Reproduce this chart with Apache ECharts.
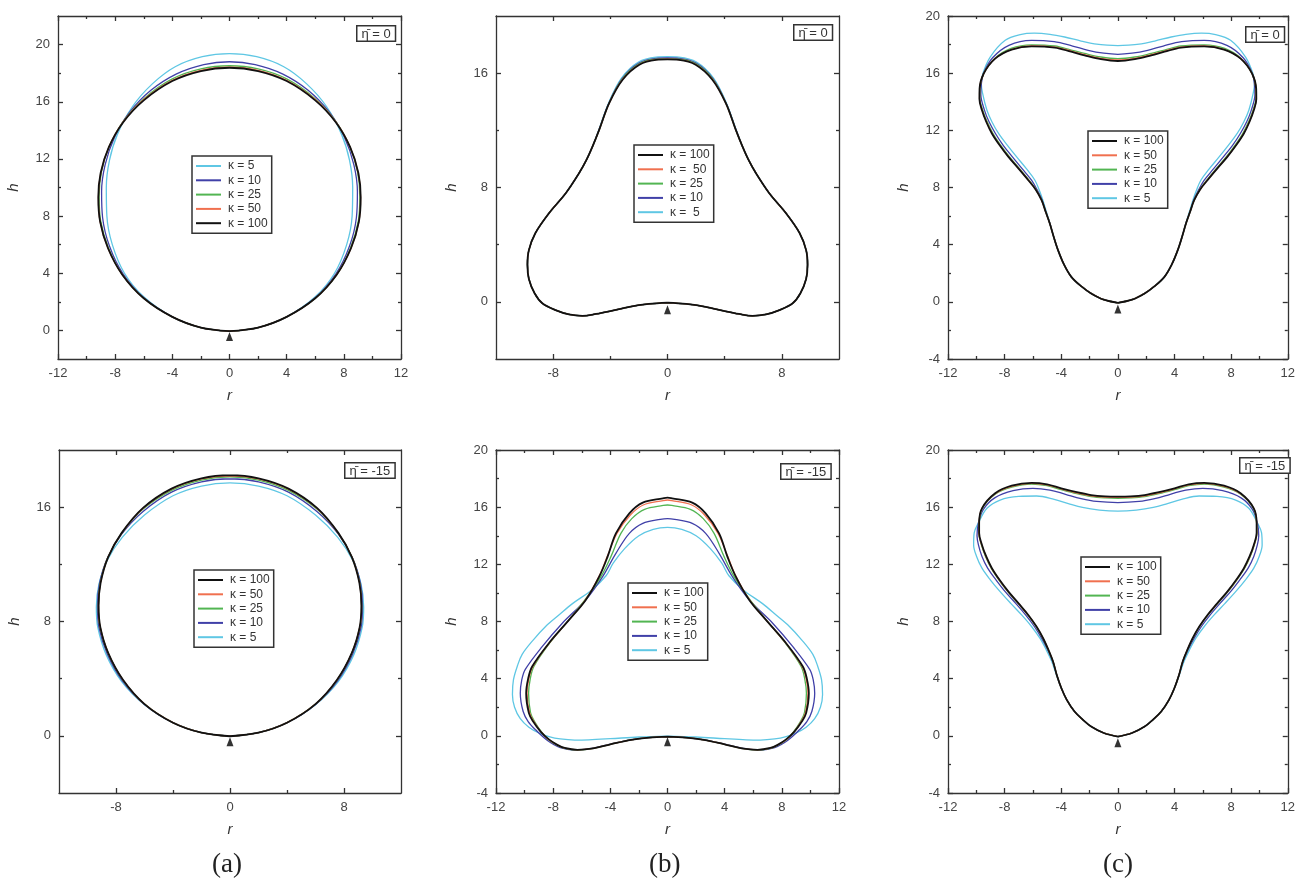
<!DOCTYPE html>
<html><head><meta charset="utf-8">
<script src="https://cdn.jsdelivr.net/npm/echarts@6/dist/echarts.min.js"></script>
<style>html,body{margin:0;background:#fff}#c{width:1298px;height:889px}</style>
</head><body><div id="c"></div>
<script>
// ---- data: right halves (r >= 0) of each axisymmetric profile, bottom -> top; left half is the mirror image ----
// (a) eta = 0
const A0_K5   = [[0,-0.05],[2,0.2],[4,0.95],[6,2.35],[7.35,4.0],[8.2,6.0],[8.58,8.0],[8.62,10.0],[8.4,11.9],[7.85,13.7],[6.8,15.65],[5.4,17.25],[3.8,18.45],[1.9,19.15],[0,19.37]];
const A0_K10  = [[0,-0.05],[2,0.2],[4,0.95],[6,2.28],[7.45,3.95],[8.4,5.9],[8.88,7.9],[8.95,9.7],[8.7,11.6],[8.05,13.5],[7.0,15.25],[5.5,16.8],[3.7,17.95],[1.8,18.6],[0,18.8]];
const A0_K25  = [[0,-0.05],[2,0.2],[4,0.95],[6,2.25],[7.5,3.9],[8.48,5.8],[9.02,7.7],[9.12,9.4],[8.95,11.15],[8.38,12.95],[7.38,14.7],[5.95,16.25],[4,17.6],[2,18.3],[0,18.52]];
const A0_K50  = [[0,-0.05],[2,0.2],[4,0.95],[6,2.25],[7.5,3.9],[8.5,5.75],[9.05,7.6],[9.17,9.35],[9.0,11.05],[8.43,12.85],[7.43,14.6],[6,16.15],[4,17.5],[2,18.2],[0,18.42]];
const A0_K100 = [[0,-0.05],[2,0.2],[4,0.95],[6,2.25],[7.5,3.9],[8.5,5.75],[9.05,7.6],[9.18,9.3],[9.02,11.0],[8.45,12.8],[7.45,14.55],[6,16.1],[4,17.45],[2,18.15],[0,18.38]];
// (b) eta = 0
const B0_K5   = [[0,-0.05],[1.3,-0.15],[2.67,-0.35],[4.0,-0.65],[5.0,-0.85],[5.95,-0.98],[6.9,-0.88],[7.83,-0.58],[8.76,-0.1],[9.3,0.6],[9.7,1.6],[9.8,2.6],[9.7,3.62],[9.25,4.8],[8.3,6.19],[7.12,7.6],[6.19,9.0],[5.67,9.93],[5.25,10.86],[4.8,12.05],[4.12,13.92],[3.22,15.66],[2.03,16.78],[0.8,17.12],[0,17.15]];
const B0_K10  = [[0,-0.05],[1.3,-0.15],[2.67,-0.35],[4.0,-0.65],[5.0,-0.85],[5.95,-0.98],[6.9,-0.88],[7.83,-0.58],[8.76,-0.1],[9.3,0.6],[9.7,1.6],[9.8,2.6],[9.7,3.62],[9.25,4.8],[8.3,6.19],[7.12,7.6],[6.19,9.0],[5.67,9.93],[5.25,10.86],[4.79,12.04],[4.1,13.91],[3.18,15.62],[2.0,16.7],[0.8,17.03],[0,17.06]];
const B0_K25  = [[0,-0.05],[1.3,-0.15],[2.67,-0.35],[4.0,-0.65],[5.0,-0.85],[5.95,-0.98],[6.9,-0.88],[7.83,-0.58],[8.76,-0.1],[9.3,0.6],[9.7,1.6],[9.8,2.6],[9.7,3.62],[9.25,4.8],[8.3,6.19],[7.12,7.6],[6.19,9.0],[5.67,9.93],[5.25,10.86],[4.78,12.03],[4.09,13.9],[3.16,15.6],[1.99,16.65],[0.8,16.98],[0,17.0]];
const B0_K50  = [[0,-0.05],[1.3,-0.15],[2.67,-0.35],[4.0,-0.65],[5.0,-0.85],[5.95,-0.98],[6.9,-0.88],[7.83,-0.58],[8.76,-0.1],[9.3,0.6],[9.7,1.6],[9.8,2.6],[9.7,3.62],[9.25,4.8],[8.3,6.19],[7.12,7.6],[6.19,9.0],[5.67,9.93],[5.25,10.86],[4.78,12.03],[4.08,13.9],[3.15,15.56],[1.98,16.61],[0.8,16.95],[0,16.98]];
const B0_K100 = [[0,-0.05],[1.3,-0.15],[2.67,-0.35],[4.0,-0.65],[5.0,-0.85],[5.95,-0.98],[6.9,-0.88],[7.83,-0.58],[8.76,-0.1],[9.3,0.6],[9.7,1.6],[9.8,2.6],[9.7,3.62],[9.25,4.8],[8.3,6.19],[7.12,7.6],[6.19,9.0],[5.67,9.93],[5.25,10.86],[4.78,12.03],[4.08,13.9],[3.14,15.54],[1.97,16.59],[0.8,16.93],[0,16.96]];
// (c) eta = 0
const C0_K5   = [[0,-0.07],[1.0,0.15],[1.89,0.59],[2.6,1.1],[3.29,1.75],[3.8,2.6],[4.23,3.62],[4.55,4.6],[4.8,5.48],[5.05,6.3],[5.3,7.11],[5.55,7.8],[5.86,8.51],[6.45,9.3],[7.15,10.14],[7.8,10.95],[8.43,11.78],[8.9,12.6],[9.25,13.4],[9.56,14.6],[9.65,15.3],[9.54,15.97],[9.02,17.13],[7.96,18.3],[6.9,18.7],[5.9,18.8],[4.8,18.72],[3.76,18.53],[2.6,18.25],[1.66,18.05],[0,17.93]];
const C0_K10  = [[0,-0.07],[1.0,0.15],[1.89,0.59],[2.6,1.1],[3.29,1.75],[3.8,2.6],[4.23,3.62],[4.55,4.6],[4.8,5.48],[5.1,6.3],[5.35,7.11],[5.7,7.83],[6.1,8.51],[6.75,9.3],[7.45,10.14],[8.1,10.95],[8.65,11.78],[9.1,12.6],[9.42,13.4],[9.68,14.5],[9.65,15.2],[9.5,15.97],[8.85,17.08],[7.7,17.95],[6.1,18.3],[4.5,18.2],[3.2,17.9],[2.1,17.6],[1.0,17.4],[0,17.32]];
const C0_K25  = [[0,-0.07],[1.0,0.15],[1.89,0.59],[2.6,1.1],[3.29,1.75],[3.8,2.6],[4.23,3.62],[4.55,4.6],[4.81,5.48],[5.1,6.3],[5.38,7.11],[5.78,7.85],[6.27,8.51],[6.93,9.3],[7.65,10.14],[8.27,10.95],[8.82,11.78],[9.23,12.6],[9.54,13.4],[9.76,14.3],[9.75,14.95],[9.48,15.97],[8.7,17.03],[7.55,17.73],[6.09,17.98],[4.46,17.9],[3.3,17.62],[2.36,17.38],[1.2,17.13],[0,17.02]];
const C0_K50  = [[0,-0.07],[1.0,0.15],[1.89,0.59],[2.6,1.1],[3.29,1.75],[3.8,2.6],[4.23,3.62],[4.55,4.6],[4.81,5.48],[5.1,6.3],[5.39,7.11],[5.8,7.85],[6.31,8.51],[6.98,9.3],[7.71,10.14],[8.33,10.95],[8.88,11.78],[9.28,12.6],[9.58,13.4],[9.77,14.2],[9.76,14.9],[9.48,15.97],[8.68,17.02],[7.5,17.67],[6.09,17.9],[4.46,17.82],[3.3,17.55],[2.36,17.3],[1.2,17.03],[0,16.92]];
const C0_K100 = [[0,-0.07],[1.0,0.15],[1.89,0.59],[2.6,1.1],[3.29,1.75],[3.8,2.6],[4.23,3.62],[4.55,4.6],[4.81,5.48],[5.1,6.3],[5.39,7.11],[5.8,7.85],[6.33,8.51],[7.0,9.3],[7.73,10.14],[8.35,10.95],[8.9,11.78],[9.3,12.6],[9.6,13.4],[9.78,14.2],[9.77,14.9],[9.48,15.97],[8.67,17.02],[7.5,17.65],[6.09,17.88],[4.46,17.79],[3.3,17.5],[2.36,17.25],[1.2,16.98],[0,16.85]];
// (a) eta = -15
const A1_K5   = [[0,-0.03],[2,0.22],[4,0.92],[6,2.18],[7.6,3.8],[8.7,5.7],[9.28,7.6],[9.38,9.0],[9.2,10.6],[8.6,12.3],[7.55,13.9],[6.0,15.45],[4.0,16.8],[2,17.48],[0,17.7]];
const A1_K10  = [[0,-0.03],[2,0.22],[4,0.92],[6,2.2],[7.55,3.85],[8.62,5.75],[9.2,7.6],[9.3,9.1],[9.15,10.7],[8.6,12.45],[7.62,14.1],[6.1,15.7],[4.1,17.05],[2,17.77],[0,17.99]];
const A1_K25  = [[0,-0.03],[2,0.22],[4,0.92],[6,2.22],[7.5,3.88],[8.56,5.8],[9.12,7.6],[9.24,9.1],[9.1,10.7],[8.57,12.5],[7.62,14.15],[6.12,15.85],[4.1,17.18],[2,17.9],[0,18.13]];
const A1_K50  = [[0,-0.03],[2,0.22],[4,0.92],[6,2.22],[7.5,3.9],[8.55,5.8],[9.11,7.6],[9.23,9.1],[9.09,10.7],[8.56,12.5],[7.6,14.18],[6.1,15.92],[4.1,17.26],[2,17.98],[0,18.2]];
const A1_K100 = [[0,-0.03],[2,0.22],[4,0.92],[6,2.22],[7.5,3.9],[8.55,5.8],[9.1,7.6],[9.22,9.1],[9.08,10.7],[8.55,12.5],[7.6,14.2],[6.1,15.95],[4.1,17.3],[2,18.02],[0,18.24]];
// (b) eta = -15
const B1_K5   = [[0,-0.02],[2,-0.08],[4,-0.2],[5.5,-0.28],[6.5,-0.3],[7.5,-0.22],[8.3,-0.05],[9.0,0.2],[9.7,0.6],[10.3,1.2],[10.7,2.0],[10.85,2.9],[10.78,3.92],[10.5,4.9],[10.17,5.7],[9.4,6.7],[8.53,7.65],[7.6,8.45],[6.65,9.25],[5.3,10.21],[4.3,11.2],[3.8,12.08],[3.0,13.1],[2.0,14.0],[1.0,14.45],[0,14.59]];
const B1_K10  = [[0,-0.05],[1.3,-0.12],[2.55,-0.28],[4.0,-0.58],[5.3,-0.88],[6.5,-0.99],[7.5,-0.82],[8.4,-0.32],[9.23,0.42],[9.75,1.0],[10.1,1.7],[10.3,2.98],[10.2,3.9],[9.95,4.65],[8.77,6.24],[7.36,7.88],[5.72,9.51],[4.54,11.14],[3.61,12.77],[2.67,14.17],[1.73,14.87],[0.5,15.15],[0,15.2]];
const B1_K25  = [[0,-0.05],[1.3,-0.12],[2.55,-0.28],[4.0,-0.6],[5.2,-0.88],[6.3,-0.99],[7.2,-0.88],[7.71,-0.66],[8.3,-0.3],[8.8,0.25],[9.3,1.0],[9.58,1.6],[9.72,2.98],[9.6,4.0],[9.35,4.85],[8.25,6.48],[6.9,8.11],[5.78,9.51],[4.66,11.14],[3.96,12.54],[3.26,14.17],[2.5,15.2],[1.6,15.85],[0.3,16.12],[0,16.15]];
const B1_K50  = [[0,-0.05],[1.3,-0.12],[2.55,-0.28],[4.0,-0.6],[5.2,-0.88],[6.3,-0.98],[7.2,-0.86],[7.71,-0.64],[8.3,-0.27],[8.85,0.28],[9.35,1.0],[9.65,1.6],[9.83,2.98],[9.7,4.0],[9.42,4.85],[8.28,6.48],[6.89,8.11],[5.74,9.51],[4.8,11.14],[4.22,12.54],[3.54,14.17],[2.6,15.45],[1.7,16.15],[0.3,16.46],[0,16.5]];
const B1_K100 = [[0,-0.05],[1.3,-0.12],[2.55,-0.28],[4.0,-0.6],[5.2,-0.88],[6.3,-0.98],[7.2,-0.85],[7.71,-0.63],[8.3,-0.25],[8.88,0.3],[9.4,1.0],[9.7,1.59],[9.89,2.98],[9.75,4.0],[9.47,4.85],[8.3,6.48],[6.89,8.11],[5.72,9.51],[4.78,11.14],[4.19,12.54],[3.61,14.17],[2.67,15.57],[1.73,16.32],[0.32,16.62],[0,16.67]];
// (c) eta = -15
const C1_K5   = [[0,-0.05],[1.0,0.2],[1.89,0.65],[2.5,1.15],[3.06,1.7],[3.6,2.5],[3.99,3.33],[4.32,4.2],[4.67,5.2],[5.05,6.0],[5.51,6.83],[6.1,7.65],[6.8,8.46],[7.55,9.25],[8.32,10.09],[9.0,10.9],[9.6,11.73],[9.98,12.55],[10.19,13.36],[10.15,14.2],[9.85,14.9],[9.25,15.92],[8.32,16.5],[7.0,16.75],[5.74,16.78],[4.5,16.55],[3.5,16.25],[2.5,15.98],[1.3,15.8],[0,15.73]];
const C1_K10  = [[0,-0.05],[1.0,0.2],[1.89,0.65],[2.5,1.15],[3.06,1.7],[3.6,2.5],[3.99,3.33],[4.3,4.2],[4.6,5.2],[4.95,6.0],[5.39,6.83],[5.9,7.65],[6.52,8.46],[7.2,9.25],[7.96,10.09],[8.6,10.9],[9.2,11.73],[9.6,12.55],[9.85,13.36],[9.95,14.0],[9.85,14.9],[9.5,15.85],[8.7,16.65],[7.4,17.15],[6.0,17.32],[4.8,17.2],[3.7,16.9],[2.6,16.6],[1.5,16.4],[0,16.32]];
const C1_K25  = [[0,-0.05],[1.0,0.2],[1.89,0.65],[2.5,1.15],[3.06,1.7],[3.6,2.5],[3.99,3.33],[4.3,4.2],[4.58,5.2],[4.91,6.0],[5.3,6.83],[5.78,7.65],[6.37,8.46],[7.04,9.25],[7.78,10.09],[8.4,10.9],[8.95,11.73],[9.35,12.55],[9.64,13.36],[9.82,14.2],[9.8,14.9],[9.58,15.9],[8.67,16.9],[7.5,17.4],[6.09,17.62],[5.0,17.5],[4.0,17.22],[2.9,16.94],[1.89,16.74],[0.9,16.65],[0,16.62]];
const C1_K50  = [[0,-0.05],[1.0,0.2],[1.89,0.65],[2.5,1.15],[3.06,1.7],[3.6,2.5],[3.99,3.33],[4.3,4.2],[4.58,5.2],[4.9,6.0],[5.28,6.83],[5.76,7.65],[6.35,8.46],[7.02,9.25],[7.75,10.09],[8.37,10.9],[8.92,11.73],[9.32,12.55],[9.62,13.36],[9.81,14.2],[9.8,14.9],[9.6,15.92],[8.67,16.94],[7.5,17.46],[6.09,17.67],[5.0,17.56],[4.0,17.28],[2.9,17.0],[1.89,16.8],[0.9,16.71],[0,16.69]];
const C1_K100 = [[0,-0.05],[1.0,0.2],[1.89,0.65],[2.5,1.15],[3.06,1.7],[3.6,2.5],[3.99,3.33],[4.3,4.2],[4.58,5.2],[4.9,6.0],[5.28,6.83],[5.75,7.65],[6.33,8.46],[7.0,9.25],[7.73,10.09],[8.35,10.9],[8.9,11.73],[9.3,12.55],[9.6,13.36],[9.8,14.2],[9.8,14.9],[9.6,15.92],[8.67,16.97],[7.5,17.5],[6.09,17.7],[5.0,17.6],[4.0,17.32],[2.9,17.05],[1.89,16.85],[0.9,16.76],[0,16.74]];

// kappa values, legend orders, eta labels, apex marker heights
const KAPPA = [5, 10, 25, 50, 100];
const LEGEND_UP = [5, 10, 25, 50, 100];
const LEGEND_DOWN = [100, 50, 25, 10, 5];
const ETA_LABELS = ['0', '0', '0', '-15', '-15', '-15'];
const MARK_H = [-0.43, -0.55, -0.51, -0.42, -0.42, -0.49];
const PANEL_LETTERS = ['(a)', '(b)', '(c)'];

// tick labels
const X_TICKS_4 = [-12, -8, -4, 0, 4, 8, 12];
const X_MINOR_2 = [-10, -6, -2, 2, 6, 10];
const X_TICKS_8 = [-8, 0, 8];
const X_MINOR_8 = [-4, 4];
const Y_TICKS_A0 = [0, 4, 8, 12, 16, 20];
const Y_MINOR_A0 = [2, 6, 10, 14, 18];
const Y_TICKS_8 = [0, 8, 16];
const Y_MINOR_8 = [4, 12];
const Y_TICKS_4 = [-4, 0, 4, 8, 12, 16, 20];
const Y_MINOR_4 = [-2, 2, 6, 10, 14, 18];

const PANELS = [
  {curves: {5: A0_K5, 10: A0_K10, 25: A0_K25, 50: A0_K50, 100: A0_K100}, legend: LEGEND_UP, xT: X_TICKS_4, xM: X_MINOR_2, yMin: -2, yMax: 22, yT: Y_TICKS_A0, yM: Y_MINOR_A0},
  {curves: {5: B0_K5, 10: B0_K10, 25: B0_K25, 50: B0_K50, 100: B0_K100}, legend: LEGEND_DOWN, xT: X_TICKS_8, xM: X_MINOR_8, yMin: -4, yMax: 20, yT: Y_TICKS_8, yM: Y_MINOR_8},
  {curves: {5: C0_K5, 10: C0_K10, 25: C0_K25, 50: C0_K50, 100: C0_K100}, legend: LEGEND_DOWN, xT: X_TICKS_4, xM: X_MINOR_2, yMin: -4, yMax: 20, yT: Y_TICKS_4, yM: Y_MINOR_4},
  {curves: {5: A1_K5, 10: A1_K10, 25: A1_K25, 50: A1_K50, 100: A1_K100}, legend: LEGEND_DOWN, xT: X_TICKS_8, xM: X_MINOR_8, yMin: -4, yMax: 20, yT: Y_TICKS_8, yM: Y_MINOR_8},
  {curves: {5: B1_K5, 10: B1_K10, 25: B1_K25, 50: B1_K50, 100: B1_K100}, legend: LEGEND_DOWN, xT: X_TICKS_4, xM: X_MINOR_2, yMin: -4, yMax: 20, yT: Y_TICKS_4, yM: Y_MINOR_4},
  {curves: {5: C1_K5, 10: C1_K10, 25: C1_K25, 50: C1_K50, 100: C1_K100}, legend: LEGEND_DOWN, xT: X_TICKS_4, xM: X_MINOR_2, yMin: -4, yMax: 20, yT: Y_TICKS_4, yM: Y_MINOR_4}
];

// ---- layout & style ----
const GRIDS = [
  {left: 58, top: 16, width: 343, height: 343},
  {left: 496, top: 16, width: 343, height: 343},
  {left: 948, top: 16, width: 342, height: 343},
  {left: 59, top: 450, width: 342, height: 343},
  {left: 496, top: 450, width: 343, height: 343},
  {left: 948, top: 450, width: 342, height: 343}
];
const LEGEND_POS = [[192, 156], [634, 145], [1088, 131], [194, 570], [628, 583], [1081, 557]];
const ETA_POS = [[356, 25], [793, 24], [1245, 26], [344, 462], [780, 463], [1239, 457]];
const LETTER_X = [229, 666, 1120];
const COLORS = {5: '#5fc7e4', 10: '#4040a8', 25: '#52b552', 50: '#f0704f', 100: '#111111'};
const WIDTHS = {5: 1.3, 10: 1.3, 25: 1.3, 50: 1.3, 100: 1.8};
const FONT = '"Liberation Sans", Arial, sans-serif';
const AX = '#333';

function closeCurve(half) {
  const back = half.slice(0, -1).reverse().map(p => [-p[0], p[1]]);
  return half.concat(back);
}
const kName = k => 'κ = ' + k;

const xAxes = [], yAxes = [], series = [], legends = [], graphics = [];
const lineStyleAx = {color: AX, width: 1.3};
const hiddenLine = {show: false, onZero: false};

function tickAxis(base, values, len) {
  return Object.assign({type: 'value', axisLine: hiddenLine,
    axisTick: {show: true, inside: true, length: len, customValues: values, lineStyle: lineStyleAx},
    axisLabel: {show: false}, splitLine: {show: false}}, base);
}

PANELS.forEach((P, gi) => {
  const nameStyle = {fontStyle: 'italic', fontSize: 15, color: '#333', fontFamily: FONT};
  const xi = xAxes.length;
  const xb = {gridIndex: gi, min: -12, max: 12};
  xAxes.push({type: 'value', gridIndex: gi, position: 'bottom', min: -12, max: 12,
    axisLine: {show: true, onZero: false, lineStyle: lineStyleAx},
    axisTick: {show: true, inside: true, length: 5, customValues: P.xT, lineStyle: lineStyleAx},
    axisLabel: {show: true, customValues: P.xT, margin: 8, color: '#444', fontSize: 13, fontFamily: FONT},
    splitLine: {show: false}, name: 'r', nameLocation: 'middle', nameGap: 29, nameTextStyle: nameStyle});
  xAxes.push(tickAxis(Object.assign({position: 'bottom'}, xb), P.xM, 3));
  xAxes.push(Object.assign(tickAxis(Object.assign({position: 'top'}, xb), P.xT, 5),
    {axisLine: {show: true, onZero: false, lineStyle: lineStyleAx}}));
  xAxes.push(tickAxis(Object.assign({position: 'top'}, xb), P.xM, 3));

  const yi = yAxes.length;
  const yb = {gridIndex: gi, min: P.yMin, max: P.yMax};
  yAxes.push({type: 'value', gridIndex: gi, position: 'left', min: P.yMin, max: P.yMax,
    axisLine: {show: true, onZero: false, lineStyle: lineStyleAx},
    axisTick: {show: true, inside: true, length: 5, customValues: P.yT, lineStyle: lineStyleAx},
    axisLabel: {show: true, customValues: P.yT, margin: 8, color: '#444', fontSize: 13, fontFamily: FONT},
    splitLine: {show: false}, name: 'h', nameLocation: 'middle', nameGap: 37, nameTextStyle: nameStyle});
  yAxes.push(tickAxis(Object.assign({position: 'left'}, yb), P.yM, 3));
  yAxes.push(Object.assign(tickAxis(Object.assign({position: 'right'}, yb), P.yT, 5),
    {axisLine: {show: true, onZero: false, lineStyle: lineStyleAx}}));
  yAxes.push(tickAxis(Object.assign({position: 'right'}, yb), P.yM, 3));

  // curves: black drawn last (on top)
  KAPPA.forEach((k, ki) => {
    series.push({type: 'line', name: kName(k), xAxisIndex: xi, yAxisIndex: yi,
      data: closeCurve(P.curves[k]), smooth: 0.35, symbol: 'none', showSymbol: false,
      lineStyle: {color: COLORS[k], width: WIDTHS[k]}, itemStyle: {color: COLORS[k]},
      emphasis: {disabled: true}, z: 2});
  });
  // apex marker
  series.push({type: 'scatter', name: 'apex', xAxisIndex: xi, yAxisIndex: yi,
    data: [[0, MARK_H[gi]]], symbol: 'triangle', symbolSize: [7, 9],
    itemStyle: {color: '#000'}, z: 3, silent: true});

  const lp = LEGEND_POS[gi];
  legends.push({data: P.legend.map(kName), orient: 'vertical', left: lp[0], top: lp[1],
    padding: [4, 4, 4, 4], icon: 'rect', itemWidth: 25, itemHeight: 2, itemGap: 2.3,
    textStyle: {fontSize: 12, color: '#333', fontFamily: FONT, lineHeight: 12, height: 12, padding: [0, 0, 0, 2]},
    borderColor: '#333', borderWidth: 1.5, backgroundColor: '#fff',
    selectedMode: false,
    formatter: gi === 1 ? (n => n.replace(/= (50|5)$/, '=  $1')) : undefined});

  const ep = ETA_POS[gi];
  graphics.push({type: 'text', left: ep[0], top: ep[1], z: 10,
    style: {text: 'η\u0304 = ' + ETA_LABELS[gi], font: '13px ' + FONT, fill: '#333',
      padding: [1, 4, 0, 4], borderColor: '#333', borderWidth: 1.5, backgroundColor: '#fff'}});
});

PANEL_LETTERS.forEach((t, i) => {
  graphics.push({type: 'text', left: LETTER_X[i] - 17, top: 851,
    style: {text: t, font: '27px "Liberation Serif", "Times New Roman", serif', fill: '#222'}});
});

const chart = echarts.init(document.getElementById('c'), null, {renderer: 'canvas'});
chart.setOption({
  animation: false,
  backgroundColor: '#fff',
  grid: GRIDS.map(g => Object.assign({containLabel: false}, g)),
  xAxis: xAxes,
  yAxis: yAxes,
  legend: legends,
  series: series,
  graphic: graphics
});
</script>
</body></html>
